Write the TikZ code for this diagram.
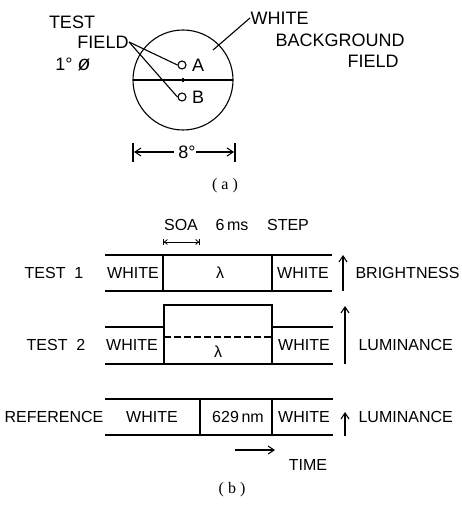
\documentclass[tikz,border=0pt]{standalone}
\usepackage{fontspec}
\setmainfont{Liberation Sans}
\newfontfamily\capfont{Liberation Serif}
\usetikzlibrary{arrows.meta, positioning, calc}

\begin{document}
\begin{tikzpicture}[x=1pt, y=-1pt, >={Straight Barb[length=6pt,width=8pt]}, line width=1.1pt,
    biglbl/.style={font=\fontsize{18}{20}\selectfont, inner sep=0pt},
    lbl/.style={font=\fontsize{16}{18}\selectfont, inner sep=0pt},
    caplbl/.style={font=\capfont\fontsize{16}{18}\selectfont, inner sep=0pt},
    spot/.style={circle, draw, minimum size=8pt, inner sep=0pt}]
    \useasboundingbox (0,0) rectangle (462,505);

    % (a) field of view
    \draw (183,80) circle (50);
    \draw (133,80) -- (233,80);
    \draw (183,78) -- (183,82);
    \node[spot] (spotA) at (182,65) {};
    \node[spot] (spotB) at (182,97) {};
    \node[biglbl, right=5pt of spotA] (labA) {A};
    \node[biglbl, right=5pt of spotB] (labB) {B};

    \node[biglbl] (test) at (72,22) {TEST};
    \node[biglbl] (field) at (103,42) {FIELD};
    \node[biglbl] (diam) at (73,64) {1° {\fontsize{21}{21}\selectfont\itshape ø}};
    \draw (field.east) -- (spotA.west);
    \draw (field.east) -- (spotB.west);

    \node[biglbl, anchor=west] (white) at (250,18) {WHITE};
    \node[biglbl, anchor=west] (backg) at (275,40) {BACKGROUND};
    \node[biglbl, anchor=west] (bfield) at (347,61) {FIELD};
    \coordinate (inside) at (213,50);
    \draw (white.west) -- (inside);

    % 8 degree span
    \draw (133,143) -- (133,162);
    \draw (235,143) -- (235,162);
    \node[biglbl] (span) at (187,152) {8°};
    \draw[->] (span.west) ++(-4,0) -- (134,152);
    \draw[->] (span.east) -- (234,152);
    \node[caplbl] (capa) at (225,186) {( a )};

    % (b) timing
    \node[lbl] (soa) at (181,225) {SOA};
    \node[lbl] (dur) at (232,225) {6\,ms};
    \node[lbl] (step) at (288,225) {STEP};
    \draw[{Bar[width=6pt]Straight Barb[length=3pt,width=5pt]}-{Straight Barb[length=3pt,width=5pt]Bar[width=6pt]}, line width=0.8pt] (163,242) -- (200,242);

    % test 1
    \draw (105,255) -- (332,255);
    \draw (105,291) -- (332,291);
    \draw (163,255) -- (163,291);
    \draw (272,255) -- (272,291);
    \node[lbl] (tone) at (54,273) {TEST\ \ 1};
    \node[lbl] at (133,273) {WHITE};
    \node[lbl] at (220,273) {λ};
    \node[lbl] at (303,273) {WHITE};
    \draw[->] (343,291) -- (343,255);
    \node[lbl, anchor=west] at (355,273) {BRIGHTNESS};

    % test 2
    \draw (105,327) -- (164,327);
    \draw (164,364) -- (164,305) -- (272,305) -- (272,364);
    \draw (272,327) -- (333,327);
    \draw (105,364) -- (333,364);
    \draw[dash pattern=on 7pt off 3pt] (164,337) -- (272,337);
    \node[lbl] (ttwo) at (56,345) {TEST\ \ 2};
    \node[lbl] at (132,345) {WHITE};
    \node[lbl] at (218,352) {λ};
    \node[lbl] at (304,345) {WHITE};
    \draw[->] (345,364) -- (345,306);
    \node[lbl, anchor=west] at (358,345) {LUMINANCE};

    % reference
    \draw (105,399) -- (333,399);
    \draw (105,435) -- (333,435);
    \draw (200,399) -- (200,435);
    \draw (272,399) -- (272,435);
    \node[lbl] (ref) at (54,417) {REFERENCE};
    \node[lbl] at (152,417) {WHITE};
    \node[lbl] at (238,417) {629\,nm};
    \node[lbl] at (304,417) {WHITE};
    \draw[->] (345,436) -- (345,412);
    \node[lbl, anchor=west] at (358,417) {LUMINANCE};

    % time axis
    \node[lbl] (time) at (308,465) {TIME};
    \coordinate (tstart) at (235,450);
    \draw[->] (tstart) -- (275,450);
    \node[caplbl] (capb) at (232,490) {( b )};
\end{tikzpicture}
\end{document}
